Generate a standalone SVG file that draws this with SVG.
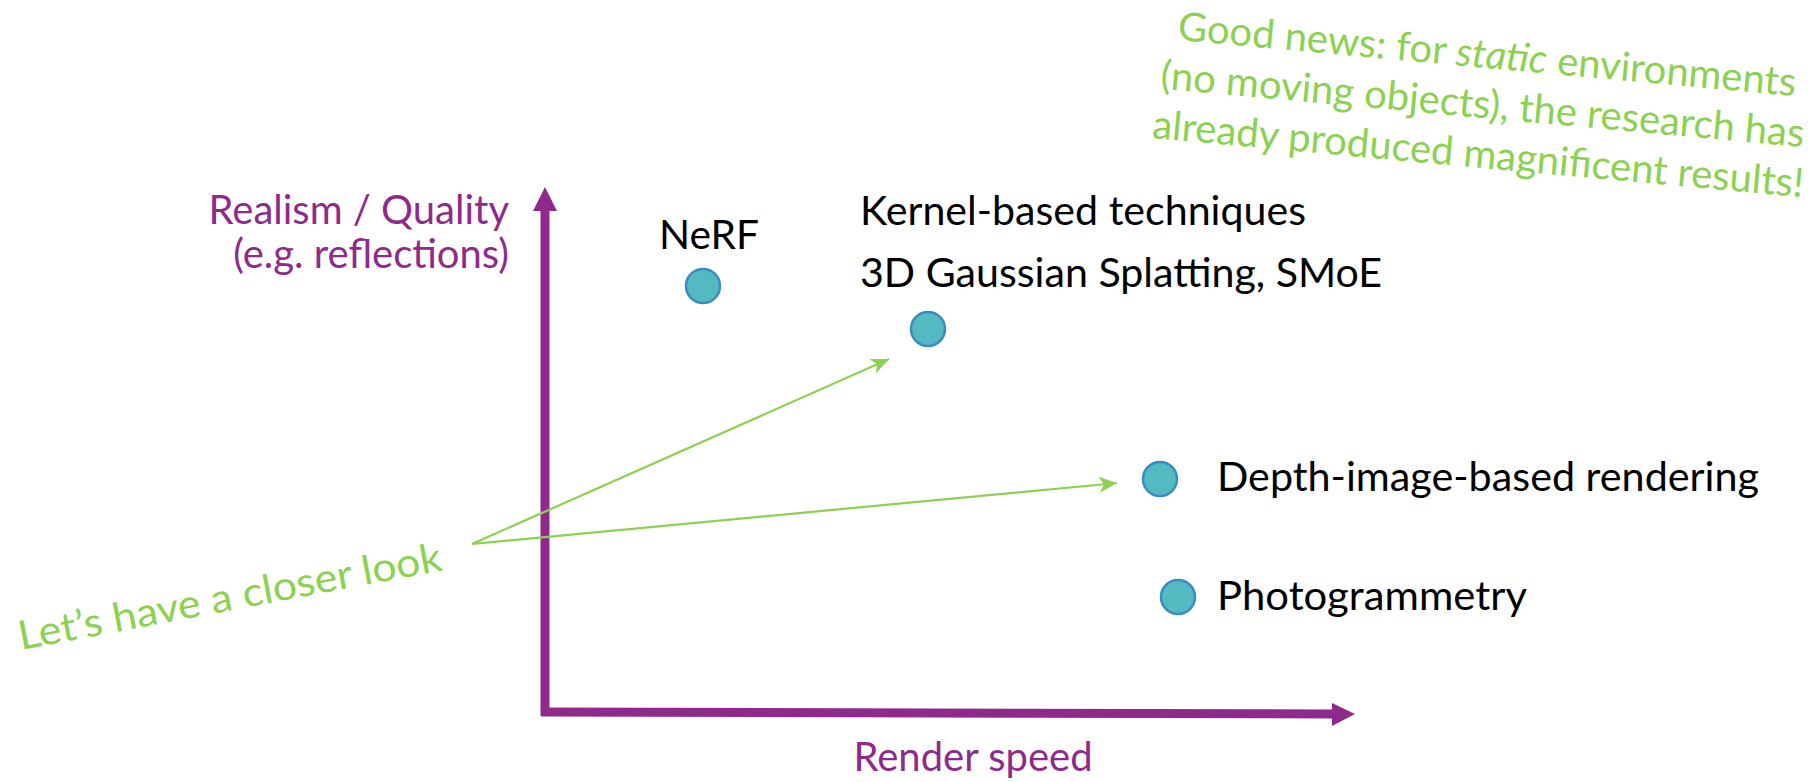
<svg xmlns="http://www.w3.org/2000/svg" width="1813" height="782" viewBox="0 0 1813 782">
  <style>
    .lbl { font-family: Lato, "Noto Sans", "Liberation Sans", sans-serif; font-size: 40px; fill: #000000; }
    .axl { font-family: Lato, "Noto Sans", "Liberation Sans", sans-serif; font-size: 40px; fill: #8F2A8C; }
    .grn { font-family: Lato, "Noto Sans", "Liberation Sans", sans-serif; font-size: 40px; fill: #8CD152; }
    .dot { fill: #53BAC2; stroke: #3C8DBF; stroke-width: 2.5; }
    .axis { stroke: #8F2A8C; stroke-width: 9; fill: none; }
    .conn { stroke: #8CD152; stroke-width: 2.2; fill: none; }
  </style>
  <defs>
    <marker id="gArrow" markerUnits="userSpaceOnUse" markerWidth="22" markerHeight="18" refX="18" refY="8" orient="auto">
      <path d="M0,0 L18,8 L0,16 L5,8 Z" fill="#8CD152"/>
    </marker>
  </defs>
  <rect width="1813" height="782" fill="#FFFFFF"/>

  <g id="axes">
    <line class="axis" x1="545" y1="716" x2="545" y2="208"/>
    <polygon points="533,211 545,187 557,211" fill="#8F2A8C"/>
    <line class="axis" x1="541" y1="712" x2="1334" y2="714"/>
    <polygon points="1332,703 1355,714 1332,726" fill="#8F2A8C"/>
    <text class="axl" x="509" y="224" text-anchor="end">Realism / Quality</text>
    <text class="axl" x="509" y="268" text-anchor="end">(e.g. reflections)</text>
    <text class="axl" x="973" y="771" text-anchor="middle">Render speed</text>
  </g>

  <g id="node-nerf">
    <circle class="dot" cx="703" cy="286" r="17"/>
    <text class="lbl" x="659" y="249" textLength="100" lengthAdjust="spacingAndGlyphs">NeRF</text>
  </g>
  <g id="node-kernel">
    <circle class="dot" cx="928" cy="329" r="17"/>
    <text class="lbl" x="860" y="225" textLength="446" lengthAdjust="spacingAndGlyphs">Kernel-based techniques</text>
    <text class="lbl" x="860" y="287" textLength="522" lengthAdjust="spacingAndGlyphs">3D Gaussian Splatting, SMoE</text>
  </g>
  <g id="node-dibr">
    <circle class="dot" cx="1160" cy="479" r="17"/>
    <text class="lbl" x="1217" y="491" textLength="542" lengthAdjust="spacingAndGlyphs">Depth-image-based rendering</text>
  </g>
  <g id="node-photo">
    <circle class="dot" cx="1178" cy="597" r="17"/>
    <text class="lbl" x="1217" y="610" textLength="310" lengthAdjust="spacingAndGlyphs">Photogrammetry</text>
  </g>

  <g id="note-closer-look">
    <text class="grn" font-size="43" textLength="430" lengthAdjust="spacingAndGlyphs" transform="translate(21,650) rotate(-10.7)">Let’s have a closer look</text>
  </g>

  <g id="note-good-news" transform="translate(1486,68) rotate(5.2)">
    <text class="grn" x="0" y="0" text-anchor="middle">Good news: for <tspan font-style="italic">static</tspan> environments</text>
    <text class="grn" x="0" y="50" text-anchor="middle">(no moving objects), the research has</text>
    <text class="grn" x="0" y="100" text-anchor="middle">already produced magnificent results!</text>
  </g>

  <g id="connectors">
    <line class="conn" x1="472" y1="544" x2="889" y2="359" marker-end="url(#gArrow)"/>
    <line class="conn" x1="472" y1="544" x2="1117" y2="483" marker-end="url(#gArrow)"/>
  </g>
</svg>
